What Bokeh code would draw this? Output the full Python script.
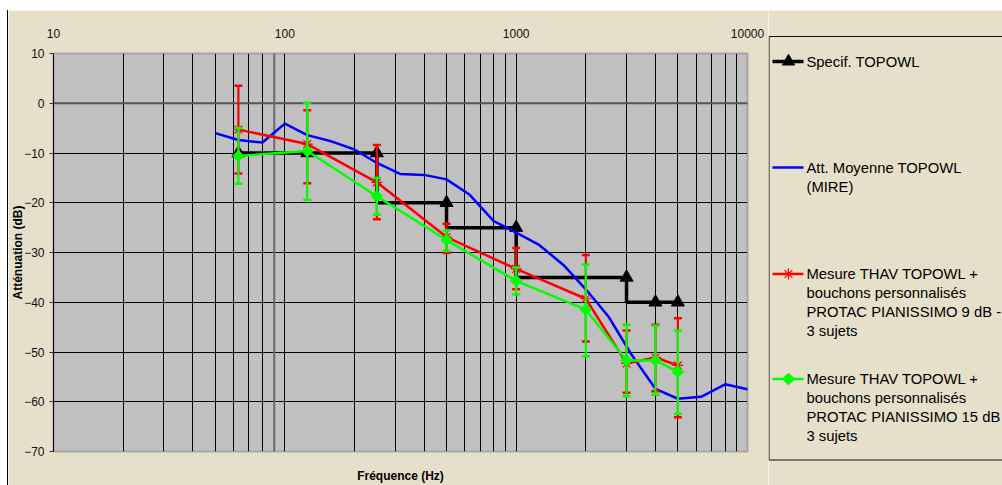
from bokeh.plotting import figure
from bokeh.models import Range1d, FixedTicker, Span, LogAxis, BasicTickFormatter, Spacer
from bokeh.layouts import row, column
from bokeh.embed import file_html
from bokeh.resources import INLINE
from bokeh.core.properties import value
import math

# ---------------- data ----------------
x_ticks = [10, 100, 1000, 10000]
x_minor = [20, 30, 40, 50, 60, 70, 80, 90,
           200, 300, 400, 500, 600, 700, 800, 900,
           2000, 3000, 4000, 5000, 6000, 7000, 8000, 9000]
y_ticks = [-70, -60, -50, -40, -30, -20, -10, 0, 10]

# Specif. TOPOWL (step template)
spec_freq = [63, 125, 250, 250, 500, 500, 1000, 1000, 3000, 3000, 4000, 5000]
spec_att = [-10, -10, -10, -20, -20, -25, -25, -35, -35, -40, -40, -40]
spec_mk_freq = [63, 125, 250, 500, 1000, 3000, 4000, 5000]
spec_mk_att = [-10, -10, -10, -20, -25, -35, -40, -40]

# Att. Moyenne TOPOWL (MIRE)
mire_freq = [50, 63, 80, 100, 125, 160, 200, 250, 315, 400, 500, 630, 800,
             1000, 1250, 1600, 2000, 2500, 3150, 4000, 5000, 6300, 8000, 10000, 12500]
mire_att = [-6.0, -7.4, -7.9, -4.1, -6.4, -7.7, -9.3, -12.0, -14.2, -14.4, -15.3, -18.4, -23.7,
            -26.0, -28.4, -32.5, -37.4, -42.8, -50.5, -57.4, -59.4, -59.0, -56.5, -57.5, -54.5]

# Measures
meas_freq = [63, 125, 250, 500, 1000, 2000, 3000, 4000, 5000]
red_mean = [-5.3, -8.2, -15.9, -26.9, -33.3, -39.3, -52.3, -51.1, -52.7]
red_hi = [3.5, -1.4, -8.4, -24.2, -29.1, -30.5, -45.7, -44.5, -43.2]
red_lo = [-14.1, -16.1, -23.3, -30.1, -37.4, -47.9, -58.2, -57.9, -63.1]
green_mean = [-10.6, -9.6, -18.7, -27.5, -35.7, -41.5, -51.7, -51.7, -54.0]
green_hi = [-5.0, 0.1, -15.0, -25.6, -33.0, -32.4, -44.5, -44.7, -45.7]
green_lo = [-16.2, -19.4, -22.4, -29.7, -38.4, -50.9, -58.9, -58.6, -62.4]

legend_spec = ["Specif. TOPOWL"]
legend_mire = ["Att. Moyenne TOPOWL", "(MIRE)"]
legend_red = ["Mesure THAV TOPOWL +", "bouchons personnalisés",
              "PROTAC PIANISSIMO 9 dB -", "3 sujets"]
legend_green = ["Mesure THAV TOPOWL +", "bouchons personnalisés",
                "PROTAC PIANISSIMO 15 dB", "3 sujets"]

# ---------------- style ----------------
BEIGE = "#E6DFC9"
PLOTBG = "#C0C0C0"
FONT = "Liberation Sans"
BLACK = "#000000"
BLUE = "#0000FF"
RED = "#FF0000"
GREEN = "#00FF00"

p = figure(width=760, height=475, x_axis_type="log",
           x_range=Range1d(10, 10000), y_range=Range1d(-70, 10),
           x_axis_location="above", output_backend="svg", toolbar_location=None,
           min_border_left=42, min_border_right=21, min_border_top=43, min_border_bottom=33)
p.frame_align = False
p.background_fill_color = PLOTBG
p.border_fill_color = BEIGE
p.outline_line_color = "#A6A6A6"
p.outline_line_width = 2

xa = p.xaxis[0]
xa.ticker = FixedTicker(ticks=x_ticks, minor_ticks=x_minor)
xa.formatter = BasicTickFormatter(use_scientific=False)
xa.axis_line_color = None
xa.major_tick_line_color = None
xa.minor_tick_line_color = None
xa.major_label_standoff = 10
xa.major_label_text_font = FONT
xa.major_label_text_font_size = "12px"
xa.major_label_text_color = "#111111"

ya = p.yaxis[0]
ya.ticker = FixedTicker(ticks=y_ticks)
ya.axis_line_color = "#000000"
ya.major_tick_out = 4
ya.major_tick_in = 0
ya.major_tick_line_color = "#333333"
ya.minor_tick_line_color = None
ya.major_label_standoff = 5
ya.major_label_text_font = FONT
ya.major_label_text_font_size = "12px"
ya.major_label_text_color = "#111111"
ya.axis_label = "Atténuation (dB)"
ya.axis_label_text_font = FONT
ya.axis_label_text_font_size = "12px"
ya.axis_label_text_font_style = "bold"
ya.axis_label_text_color = "#000000"
ya.axis_label_standoff = -4

# bottom axis carrying only the axis title
xb = LogAxis(ticker=FixedTicker(ticks=[]), axis_label="Fréquence (Hz)",
             axis_line_color=None, major_tick_line_color=None, minor_tick_line_color=None,
             major_tick_out=0, major_tick_in=0, major_label_standoff=0,
             axis_label_standoff=17, axis_label_text_font=FONT,
             axis_label_text_font_size="12px", axis_label_text_font_style="bold",
             axis_label_text_color="#000000")
p.add_layout(xb, "below")

p.xgrid.grid_line_color = "black"
p.xgrid.minor_grid_line_color = "black"
p.ygrid.grid_line_color = "black"

p.add_layout(Span(location=0, dimension="width", line_color="#555555", line_width=2, level="underlay"))
p.add_layout(Span(location=90, dimension="height", line_color="#6A6A6A", line_width=2, level="underlay"))

# Specif
p.line(spec_freq, spec_att, line_color=BLACK, line_width=3.5)
p.scatter(spec_mk_freq, spec_mk_att, marker="triangle", size=13, color=BLACK)
# MIRE
p.line(mire_freq, mire_att, line_color=BLUE, line_width=2.5)
# red
p.segment(x0=meas_freq, y0=red_lo, x1=meas_freq, y1=red_hi, line_color=RED, line_width=2.2)
p.scatter(meas_freq, red_lo, marker="dash", size=8, line_color=RED, line_width=2.5)
p.scatter(meas_freq, red_hi, marker="dash", size=8, line_color=RED, line_width=2.5)
p.line(meas_freq, red_mean, line_color=RED, line_width=2.5)
p.scatter(meas_freq, red_mean, marker="asterisk", size=11, line_color=RED, line_width=1.2)
# green
p.segment(x0=meas_freq, y0=green_lo, x1=meas_freq, y1=green_hi, line_color=GREEN, line_width=2.2)
p.scatter(meas_freq, green_lo, marker="dash", size=8, line_color=GREEN, line_width=2.5)
p.scatter(meas_freq, green_hi, marker="dash", size=8, line_color=GREEN, line_width=2.5)
p.line(meas_freq, green_mean, line_color=GREEN, line_width=2.5)
p.scatter(meas_freq, green_mean, marker="square", angle=math.pi / 4, size=8,
          fill_color=GREEN, line_color=GREEN)

# ---------------- legend panel ----------------
lg = figure(width=234, height=475, x_range=Range1d(0, 234), y_range=Range1d(475, 0),
            x_axis_type=None, y_axis_type=None, output_backend="svg", toolbar_location=None,
            min_border=0)
lg.frame_align = False
lg.background_fill_color = BEIGE
lg.border_fill_color = BEIGE
lg.outline_line_color = None
lg.grid.visible = False
lg.quad(left=[0.5], right=[300], top=[26], bottom=[449.5], fill_color=BEIGE,
        line_color="#111111", line_width=1)

LX0, LX1, MX, TX = 4, 35, 20, 38
LS = 19


def entry(y0, lines, color, width, marker=None, msize=10, angle=0.0, fill=True):
    lg.segment(x0=[LX0], y0=[y0], x1=[LX1], y1=[y0], line_color=color, line_width=width)
    if marker:
        lg.scatter([MX], [y0], marker=marker, size=msize, angle=angle,
                   line_color=color, fill_color=color if fill else None, line_width=1.2)
    ys = [y0 + i * LS for i in range(len(lines))]
    lg.text(x=[TX] * len(lines), y=ys, text=lines, text_font=value(FONT),
            text_font_size="14.8px", text_color="#000000",
            text_baseline="middle", text_align="left")


entry(51, legend_spec, BLACK, 3.5, "triangle", 12)
entry(157, legend_mire, BLUE, 2.5)
entry(263.5, legend_red, RED, 2.5, "asterisk", 11, fill=False)
entry(368.5, legend_green, GREEN, 2.5, "square", 8, angle=math.pi / 4)

left_gap = Spacer(width=7, height=475)
left_border = Spacer(width=1, height=475, styles={"background-color": "#000000"})
layout = column(Spacer(height=10, width=1002),
                row(left_gap, left_border, p, lg, spacing=0), spacing=0)
open("out.html", "w").write(file_html(layout, INLINE))
